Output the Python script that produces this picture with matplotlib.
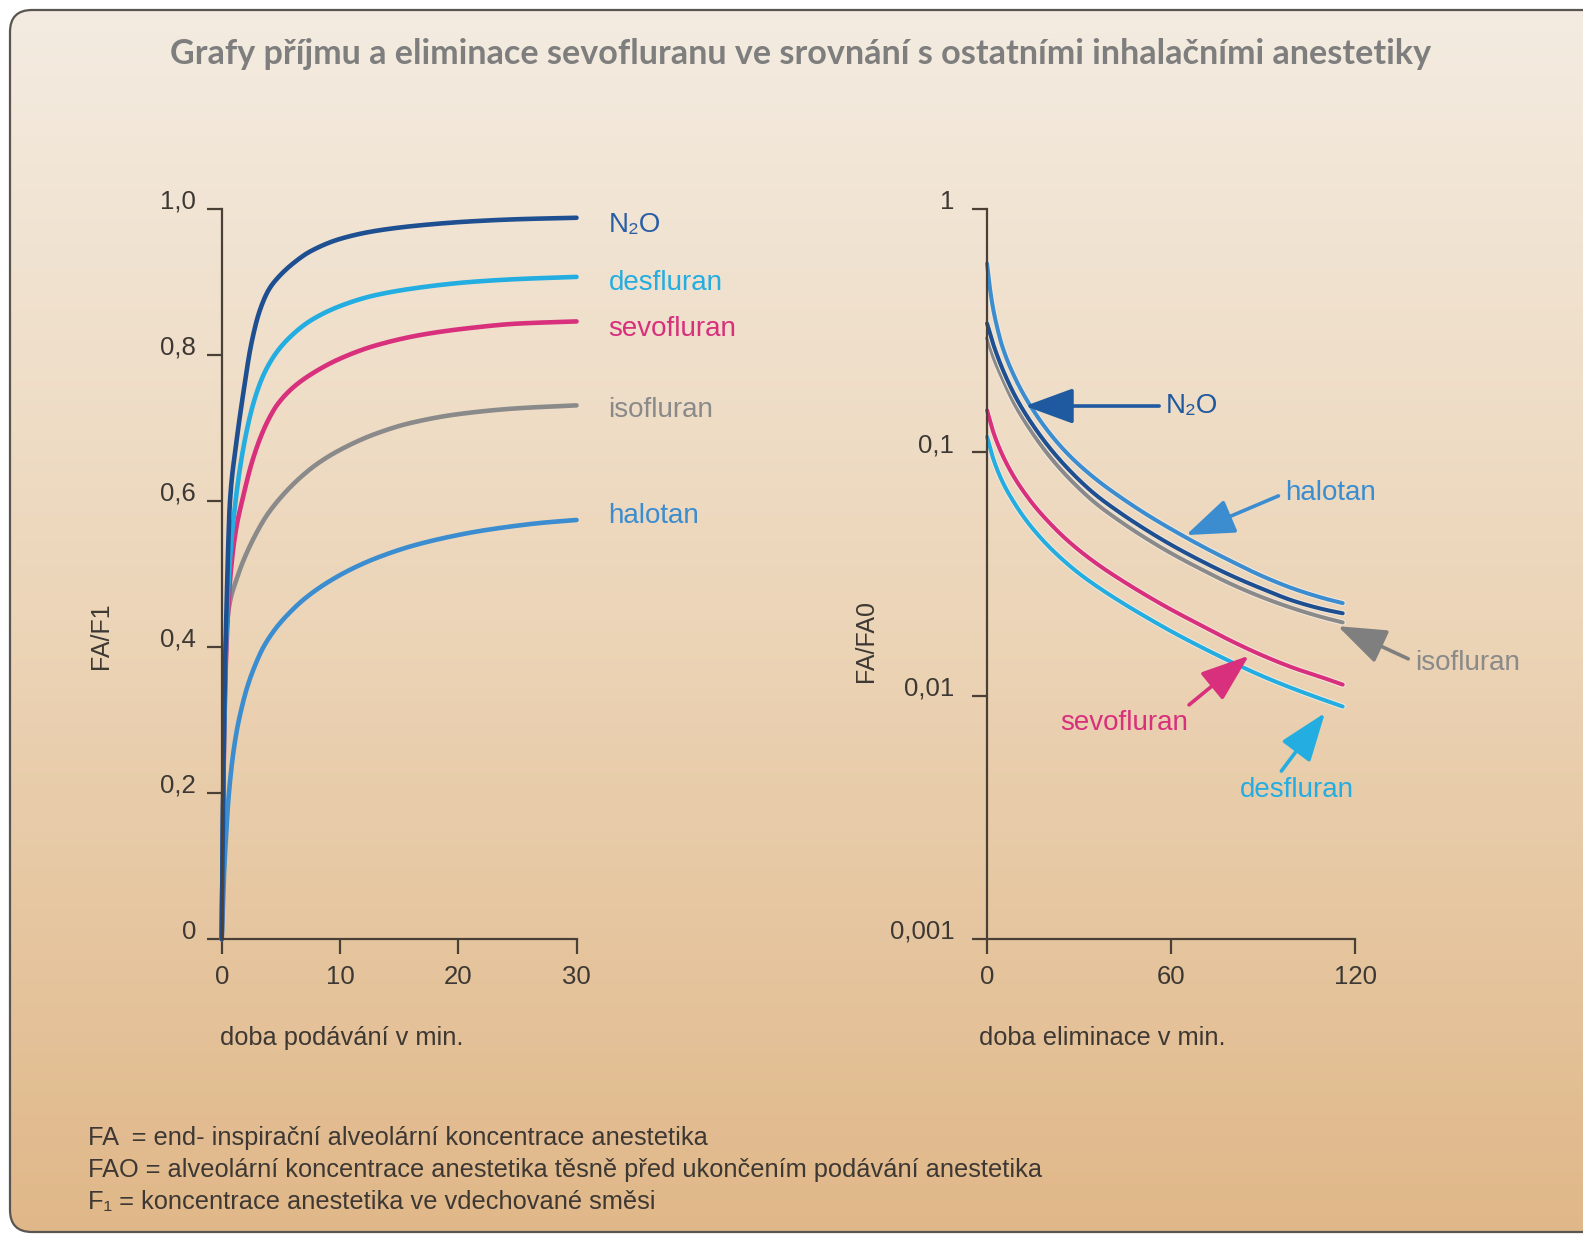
import matplotlib
matplotlib.use("Agg")
import matplotlib.pyplot as plt
import numpy as np
from matplotlib.patches import FancyBboxPatch
import matplotlib.patheffects as pe
from matplotlib.ticker import FixedLocator, NullLocator

# ---------------- data: uptake (left) ----------------
up_n2o_t = [0, 0.2, 0.4, 0.7, 1.2, 1.8, 2.5, 3.2, 4.0, 4.7, 6, 7.5, 10, 13, 17, 21, 25, 30]
up_n2o_v = [0, 0.30, 0.45, 0.60, 0.675, 0.745, 0.815, 0.86, 0.89, 0.905, 0.925, 0.942, 0.959, 0.970, 0.978, 0.983, 0.986, 0.988]

up_des_t = [0, 0.2, 0.4, 0.7, 1.1, 1.8, 2.7, 3.6, 4.7, 6, 7.5, 10, 13, 17, 21, 25, 30]
up_des_v = [0, 0.28, 0.42, 0.52, 0.59, 0.67, 0.735, 0.775, 0.805, 0.828, 0.847, 0.867, 0.882, 0.893, 0.900, 0.904, 0.907]

up_sevo_t = [0, 0.2, 0.4, 0.7, 1.2, 1.8, 2.5, 3.3, 4.0, 4.7, 6, 7.5, 10, 13, 17, 21, 25, 30]
up_sevo_v = [0, 0.27, 0.40, 0.49, 0.56, 0.605, 0.65, 0.688, 0.713, 0.732, 0.755, 0.773, 0.795, 0.813, 0.828, 0.837, 0.843, 0.846]

up_iso_t = [0, 0.2, 0.4, 0.7, 1.2, 1.8, 2.8, 3.8, 5, 6.5, 8, 10, 13, 16, 20, 25, 30]
up_iso_v = [0, 0.28, 0.42, 0.462, 0.49, 0.517, 0.552, 0.58, 0.605, 0.63, 0.65, 0.67, 0.692, 0.707, 0.719, 0.727, 0.731]

up_hal_t = [0, 0.2, 0.4, 0.56, 0.9, 1.27, 1.55, 2.1, 2.8, 3.5, 4.5, 5.5, 7, 8.9, 11, 13.1, 16, 18.7, 21.5, 24.4, 27, 30]
up_hal_v = [0, 0.09, 0.15, 0.19, 0.245, 0.285, 0.307, 0.342, 0.374, 0.399, 0.424, 0.443, 0.466, 0.488, 0.507, 0.522,
            0.538, 0.549, 0.558, 0.565, 0.570, 0.574]

# ---------------- data: elimination (right, log) ----------------
el_hal_t = [0, 1, 2, 3, 5, 9, 13, 20, 27, 35, 43, 52, 60, 70, 80, 90, 100, 110, 116]
el_hal_v = [0.598, 0.468, 0.389, 0.339, 0.272, 0.204, 0.164, 0.1217, 0.0966, 0.0785, 0.0661,
            0.0556, 0.0484, 0.0412, 0.0355, 0.0309, 0.0275, 0.0251, 0.0240]

el_n2o_t = [0, 2, 5, 9, 13, 20, 27, 35, 43, 52, 60, 70, 80, 90, 100, 110, 116]
el_n2o_v = [0.339, 0.279, 0.221, 0.172, 0.141, 0.106, 0.0841, 0.0676, 0.0569, 0.0479, 0.0417,
            0.0357, 0.0310, 0.0274, 0.0245, 0.0226, 0.0218]

el_iso_t = [0, 2, 5, 9, 13, 20, 27, 35, 43, 52, 60, 70, 80, 90, 100, 110, 116]
el_iso_v = [0.295, 0.248, 0.2018, 0.158, 0.130, 0.0977, 0.0776, 0.0624, 0.0525, 0.0442, 0.0385,
            0.0330, 0.0286, 0.0253, 0.0228, 0.0209, 0.0200]

el_sevo_t = [0, 2, 5, 9, 13, 16, 20, 25, 30, 37, 45, 52, 60, 70, 80, 90, 100, 110, 116]
el_sevo_v = [0.149, 0.1217, 0.0977, 0.0785, 0.0661, 0.0591, 0.0519, 0.0449, 0.0396, 0.0340, 0.0292,
             0.0258, 0.0226, 0.0194, 0.0167, 0.0146, 0.0130, 0.0118, 0.0111]

el_des_t = [0, 2, 5, 9, 13, 16, 20, 25, 30, 37, 45, 52, 60, 70, 80, 90, 100, 110, 116]
el_des_v = [0.116, 0.0944, 0.0759, 0.0617, 0.0521, 0.0468, 0.0412, 0.0359, 0.0318, 0.0275, 0.0237,
            0.0210, 0.0184, 0.0158, 0.0137, 0.0120, 0.01067, 0.00959, 0.00902]

# ---------------- text ----------------
title = "Grafy příjmu a eliminace sevofluranu ve srovnání s ostatními inhalačními anestetiky"
left_xticks = [0, 10, 20, 30]
left_xticklabels = ["0", "10", "20", "30"]
left_yticks = [0, 0.2, 0.4, 0.6, 0.8, 1.0]
left_yticklabels = ["0", "0,2", "0,4", "0,6", "0,8", "1,0"]
right_xticks = [0, 60, 120]
right_xticklabels = ["0", "60", "120"]
right_yticks = [0.001, 0.01, 0.1, 1]
right_yticklabels = ["0,001", "0,01", "0,1", "1"]
left_xlabel = "doba podávání v min."
right_xlabel = "doba eliminace v min."
left_ylabel = "FA/F1"
right_ylabel = "FA/FA0"
footnotes = ["FA  = end- inspirační alveolární koncentrace anestetika",
             "FAO = alveolární koncentrace anestetika těsně před ukončením podávání anestetika",
             "F\u2081 = koncentrace anestetika ve vdechované směsi"]

C_N2O = "#1d4f91"
C_DES = "#23ade0"
C_SEVO = "#d8307c"
C_ISO = "#8a8a8a"
C_HAL = "#3b8dd0"
C_AX = "#4a4036"
C_TXT = "#3d3833"


def smooth(x, y, n=600):
    """Monotone cubic (Fritsch-Carlson) curve through the read points, for drawing."""
    x = np.asarray(x, float); y = np.asarray(y, float)
    h = np.diff(x); d = np.diff(y) / h
    m = np.zeros_like(y)
    for k in range(1, len(y) - 1):
        if d[k - 1] * d[k] > 0:
            w1 = 2 * h[k] + h[k - 1]; w2 = h[k] + 2 * h[k - 1]
            m[k] = (w1 + w2) / (w1 / d[k - 1] + w2 / d[k])
    m[0] = d[0]; m[-1] = d[-1]
    xs = np.linspace(x[0], x[-1], n)
    idx = np.clip(np.searchsorted(x, xs) - 1, 0, len(h) - 1)
    tt = (xs - x[idx]) / h[idx]
    h00 = 2 * tt**3 - 3 * tt**2 + 1; h10 = tt**3 - 2 * tt**2 + tt
    h01 = -2 * tt**3 + 3 * tt**2; h11 = tt**3 - tt**2
    ys = h00 * y[idx] + h10 * h[idx] * m[idx] + h01 * y[idx + 1] + h11 * h[idx] * m[idx + 1]
    return xs, ys


W, H = 1583, 1238
plt.rcParams["font.family"] = ["Liberation Sans", "DejaVu Sans"]
fig = plt.figure(figsize=(W / 100, H / 100), dpi=100)
fig.patch.set_facecolor("white")

# ---------------- background with rounded border ----------------
bg = fig.add_axes([0, 0, 1, 1], zorder=-10)
bg.set_xlim(0, 1); bg.set_ylim(0, 1); bg.axis("off")
box = FancyBboxPatch((0.10, 0.06), 16.5, 12.22,
                     boxstyle="round,pad=0,rounding_size=0.22",
                     transform=fig.dpi_scale_trans, facecolor="none",
                     edgecolor="#5a5550", lw=1.6, zorder=2)
bg.add_patch(box)
top = np.array([244, 236, 226]) / 255
mid = np.array([236, 213, 184]) / 255
bot = np.array([224, 183, 136]) / 255
s = np.linspace(0, 1, 300)[:, None]
cols = np.where(s < 0.5, top + (mid - top) * (s / 0.5), mid + (bot - mid) * ((s - 0.5) / 0.5))
im = bg.imshow(cols[:, None, :], extent=[0, 1, 0, 1], aspect="auto", origin="upper", zorder=1)
im.set_clip_path(box)

# ---------------- title ----------------
fig.text(0.506, 1 - 54 / H, title, ha="center", va="center", fontsize=24.6,
         color="#7e7e7e", fontweight="bold", family=["Lato", "DejaVu Sans"])


def style_axes(ax, ypad):
    ax.set_facecolor("none")
    for sp in ["top", "right"]:
        ax.spines[sp].set_visible(False)
    for sp in ["left", "bottom"]:
        ax.spines[sp].set_color(C_AX)
        ax.spines[sp].set_linewidth(1.6)
    ax.tick_params(direction="out", length=10.5, width=1.6, color=C_AX,
                   labelsize=18.5, labelcolor=C_TXT)
    ax.tick_params(axis="y", pad=ypad)
    ax.tick_params(axis="x", pad=8)


# ---------------- left axes ----------------
ax1 = fig.add_axes([221.7 / W, 1 - 939 / H, (576.5 - 221.7) / W, (939 - 209) / H])
style_axes(ax1, 8)
ax1.set_xlim(0, 30); ax1.set_ylim(0, 1.0)
ax1.xaxis.set_major_locator(FixedLocator(left_xticks))
ax1.set_xticklabels(left_xticklabels)
ax1.yaxis.set_major_locator(FixedLocator(left_yticks))
ax1.set_yticklabels(left_yticklabels)
for lbl in ax1.get_yticklabels():
    lbl.set_va("baseline")

lw = 3.3
for t, v, c in [(up_hal_t, up_hal_v, C_HAL), (up_iso_t, up_iso_v, C_ISO),
                (up_sevo_t, up_sevo_v, C_SEVO), (up_des_t, up_des_v, C_DES),
                (up_n2o_t, up_n2o_v, C_N2O)]:
    xs, ys = smooth(t, v)
    ax1.plot(xs, ys, color=c, lw=lw, clip_on=False, solid_capstyle="round", solid_joinstyle="round")

for txt, y, c in [("N\u2082O", 0.978, "#2a5ea5"), ("desfluran", 0.899, C_DES),
                  ("sevofluran", 0.836, C_SEVO), ("isofluran", 0.725, C_ISO),
                  ("halotan", 0.579, C_HAL)]:
    ax1.text(32.7, y, txt, color=c, fontsize=20, ha="left", va="center", clip_on=False)

# ---------------- right axes ----------------
ax2 = fig.add_axes([987 / W, 1 - 939 / H, (1355 - 987) / W, (939 - 209) / H])
style_axes(ax2, 13)
ax2.set_yscale("log")
ax2.set_xlim(0, 120); ax2.set_ylim(0.001, 1)
ax2.xaxis.set_major_locator(FixedLocator(right_xticks))
ax2.set_xticklabels(right_xticklabels)
ax2.yaxis.set_major_locator(FixedLocator(right_yticks))
ax2.yaxis.set_minor_locator(NullLocator())
ax2.set_yticklabels(right_yticklabels)
for lbl in ax2.get_yticklabels():
    lbl.set_va("baseline")

halo = [pe.Stroke(linewidth=4.4, foreground="#f4e8da"), pe.Normal()]
for t, v, c in [(el_hal_t, el_hal_v, C_HAL), (el_iso_t, el_iso_v, C_ISO),
                (el_n2o_t, el_n2o_v, C_N2O),
                (el_sevo_t, el_sevo_v, C_SEVO), (el_des_t, el_des_v, C_DES)]:
    xs, ly = smooth(t, np.log10(v))
    ax2.plot(xs, 10 ** ly, color=c, lw=2.9, clip_on=False, solid_capstyle="round",
             solid_joinstyle="round", path_effects=halo)


def arrow_label(ax, txt, tip, pos, color, relpos, ha="left", tcolor=None):
    ax.annotate(txt, xy=tip, xytext=pos, color=tcolor or color, fontsize=20,
                ha=ha, va="center", annotation_clip=False,
                arrowprops=dict(arrowstyle="-|>,head_length=1.5,head_width=0.55",
                                color=color, lw=2.6, shrinkA=3, shrinkB=0,
                                mutation_scale=20, relpos=relpos))


arrow_label(ax2, "N\u2082O", (12.4, 0.155), (58.4, 0.155), "#1f5aa0", (0, 0.5))
arrow_label(ax2, "halotan", (64.9, 0.0457), (97.2, 0.068), C_HAL, (0, 0.5))
arrow_label(ax2, "isofluran", (114.4, 0.0193), (139.5, 0.0136), "#7f7f7f", (0, 0.55), tcolor=C_ISO)
arrow_label(ax2, "sevofluran", (85.4, 0.0146), (23.8, 0.0077), C_SEVO, (0.97, 1.05))
arrow_label(ax2, "desfluran", (110.2, 0.00849), (82.5, 0.00409), C_DES, (0.34, 1.1))

# ---------------- axis labels ----------------
fig.text(220 / W, 1 - 1038 / H, left_xlabel, ha="left", va="center", fontsize=18.3, color=C_TXT)
fig.text(979 / W, 1 - 1038 / H, right_xlabel, ha="left", va="center", fontsize=18.3, color=C_TXT)
fig.text(101 / W, 1 - 636 / H, left_ylabel, ha="center", va="center", rotation=90, fontsize=18, color=C_TXT)
fig.text(866 / W, 1 - 641 / H, right_ylabel, ha="center", va="center", rotation=90, fontsize=18, color=C_TXT)

# ---------------- footnotes ----------------
for i, line in enumerate(footnotes):
    fig.text(88 / W, 1 - (1138 + 32 * i) / H, line, ha="left", va="center", fontsize=18.3, color=C_TXT)

fig.savefig("out.png", dpi=100)
